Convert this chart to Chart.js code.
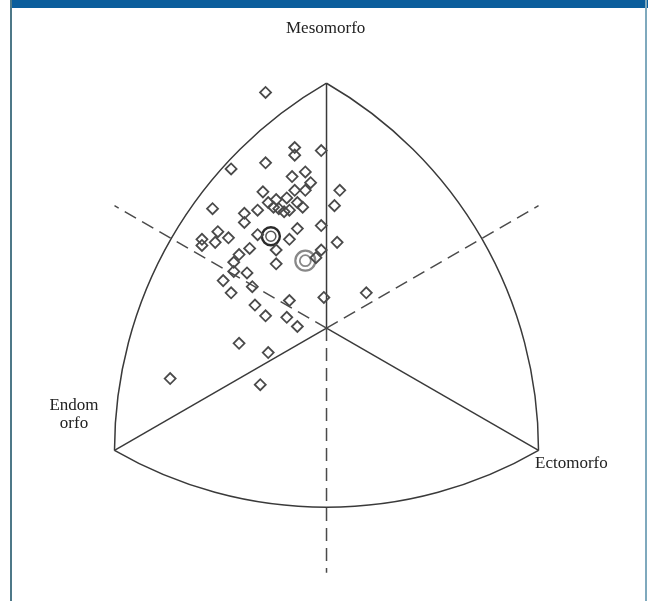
<!DOCTYPE html>
<html>
<head>
<meta charset="utf-8">
<script src="https://cdn.jsdelivr.net/npm/chart.js@4/dist/chart.umd.min.js"></script>
<style>
  body { margin: 0; background: #fff; }
  #wrap { position: relative; width: 648px; height: 601px; overflow: hidden; }
  #topband { position: absolute; left: 10px; top: 0; width: 638px; height: 8px; background: #0b5e9c; }
  #leftline { position: absolute; left: 10px; top: 0; width: 2px; height: 601px; background: #4d7888; }
  #rightline { position: absolute; left: 645px; top: 0; width: 2px; height: 601px; background: #7fa9bd; }
  .lbl { position: absolute; font-family: "Liberation Serif", "DejaVu Serif", serif; font-size: 17px; color: #222; line-height: 18px; white-space: nowrap; }
  canvas { position: absolute; left: 0; top: 0; }
</style>
</head>
<body>
<div id="wrap">
  <canvas id="somato" width="648" height="601"></canvas>
  <div id="topband"></div>
  <div id="leftline"></div>
  <div id="rightline"></div>
  <div class="lbl" style="left:286px; top:19px;">Mesomorfo</div>
  <div class="lbl" style="left:44px; top:396px; width:60px; text-align:center;">Endom<br>orfo</div>
  <div class="lbl" style="left:535px; top:454px;">Ectomorfo</div>
</div>
<script>
// somatochart coordinates: X = ecto - endo, Y = 2*meso - (endo + ecto)
const subjectsX = [-2.3, -1.2, -1.2, -0.2, -3.6, -2.3, -0.8, -1.3, -0.6, -0.8,
                   -1.2, -2.4, -2.2, -1.9, -1.5, -1.1, -0.9, -1.8, -1.6, -1.4,
                   -2.0, 0.5, 0.3, -4.3, -2.6, -3.1, -3.1, -1.1, -0.2, -4.1,
                   -4.7, -4.7, -4.2, -3.7, -2.6, -1.4, 0.4, -2.9, -1.9, -0.2,
                   -0.4, -3.3, -3.5, -3.5, -3.0, -1.9, -3.9, -2.8, -3.6, -1.4,
                   -0.1, 1.5, -2.7, -2.3, -1.5, -1.1, -3.3, -2.2, -5.9, -2.5];
const subjectsY = [15.4, 11.8, 11.3, 11.6, 10.4, 10.8, 10.2, 9.9, 9.5, 9.0,
                   9.0, 8.9, 8.2, 8.4, 8.5, 8.2, 7.9, 7.8, 7.6, 7.7,
                   7.9, 9.0, 8.0, 7.8, 7.7, 7.5, 6.9, 6.5, 6.7, 6.3,
                   5.8, 5.4, 5.6, 5.9, 6.1, 5.8, 5.6, 5.2, 5.1, 5.1,
                   4.6, 4.8, 4.3, 3.7, 3.6, 4.2, 3.1, 2.7, 2.3, 1.8,
                   2.0, 2.3, 1.5, 0.8, 0.7, 0.1, -1.0, -1.6, -3.3, -3.7];
const meanA = { x: -2.1, y: 6.0 };
const meanB = { x: -0.8, y: 4.4 };

// chart vertices (mesomorph, endomorph, ectomorph)
const apex = { x: 0, y: 16 };
const endo = { x: -8, y: -8 };
const ecto = { x: 8, y: -8 };

const subjects = subjectsX.map((x, i) => ({ x: x, y: subjectsY[i] }));

const frame = {
  id: 'frame',
  beforeDatasetsDraw(chart) {
    const ctx = chart.ctx;
    const sx = chart.scales.x, sy = chart.scales.y;
    const px = p => ({ x: sx.getPixelForValue(p.x), y: sy.getPixelForValue(p.y) });
    const A = px(apex), N = px(endo), E = px(ecto), O = px({ x: 0, y: 0 });
    const ang = (c, p) => Math.atan2(p.y - c.y, p.x - c.x);
    const dist = (a, b) => Math.hypot(a.x - b.x, a.y - b.y);
    const arc = (c, p1, p2) => {
      let a1 = ang(c, p1), a2 = ang(c, p2);
      if (a2 < a1) a2 += Math.PI * 2;
      ctx.beginPath();
      ctx.arc(c.x, c.y, dist(c, p1), a1, a2, false);
      ctx.stroke();
    };
    ctx.save();
    ctx.strokeStyle = '#3a3a3a';
    ctx.lineWidth = 1.5;
    arc(A, E, N);
    arc(E, N, A);
    arc(N, A, E);
    // solid axes
    [A, N, E].forEach(p => {
      ctx.beginPath();
      ctx.moveTo(O.x, O.y);
      ctx.lineTo(p.x, p.y);
      ctx.stroke();
    });
    // dashed extensions
    ctx.setLineDash([13, 7]);
    ctx.strokeStyle = '#4a4a4a';
    [apex, endo, ecto].forEach(v => {
      const q = px({ x: -v.x, y: -v.y });
      ctx.beginPath();
      ctx.moveTo(O.x, O.y);
      ctx.lineTo(q.x, q.y);
      ctx.stroke();
    });
    ctx.restore();
  }
};

new Chart(document.getElementById('somato'), {
  type: 'scatter',
  data: {
    datasets: [
      {
        data: subjects,
        pointStyle: 'rectRot',
        pointRadius: 5.5,
        pointBorderWidth: 1.8,
        borderColor: '#4a4a4a',
        backgroundColor: 'rgba(0,0,0,0)'
      },
      {
        data: [meanA],
        pointStyle: 'circle',
        pointRadius: 9,
        pointBorderWidth: 2.4,
        borderColor: '#2a2a2a',
        backgroundColor: 'rgba(0,0,0,0)'
      },
      {
        data: [meanA],
        pointStyle: 'circle',
        pointRadius: 5,
        pointBorderWidth: 1.5,
        borderColor: '#555',
        backgroundColor: 'rgba(0,0,0,0)'
      },
      {
        data: [meanB],
        pointStyle: 'circle',
        pointRadius: 10,
        pointBorderWidth: 2.2,
        borderColor: '#888',
        backgroundColor: 'rgba(0,0,0,0)'
      },
      {
        data: [meanB],
        pointStyle: 'circle',
        pointRadius: 5.5,
        pointBorderWidth: 1.8,
        borderColor: '#888',
        backgroundColor: 'rgba(0,0,0,0)'
      }
    ]
  },
  options: {
    responsive: false,
    animation: false,
    layout: { padding: 0, autoPadding: false },
    plugins: { legend: { display: false }, tooltip: { enabled: false } },
    scales: {
      x: { type: 'linear', min: -12.32, max: 12.13, display: false },
      y: { type: 'linear', min: -17.84, max: 21.44, display: false }
    }
  },
  plugins: [frame]
});
</script>
</body>
</html>
